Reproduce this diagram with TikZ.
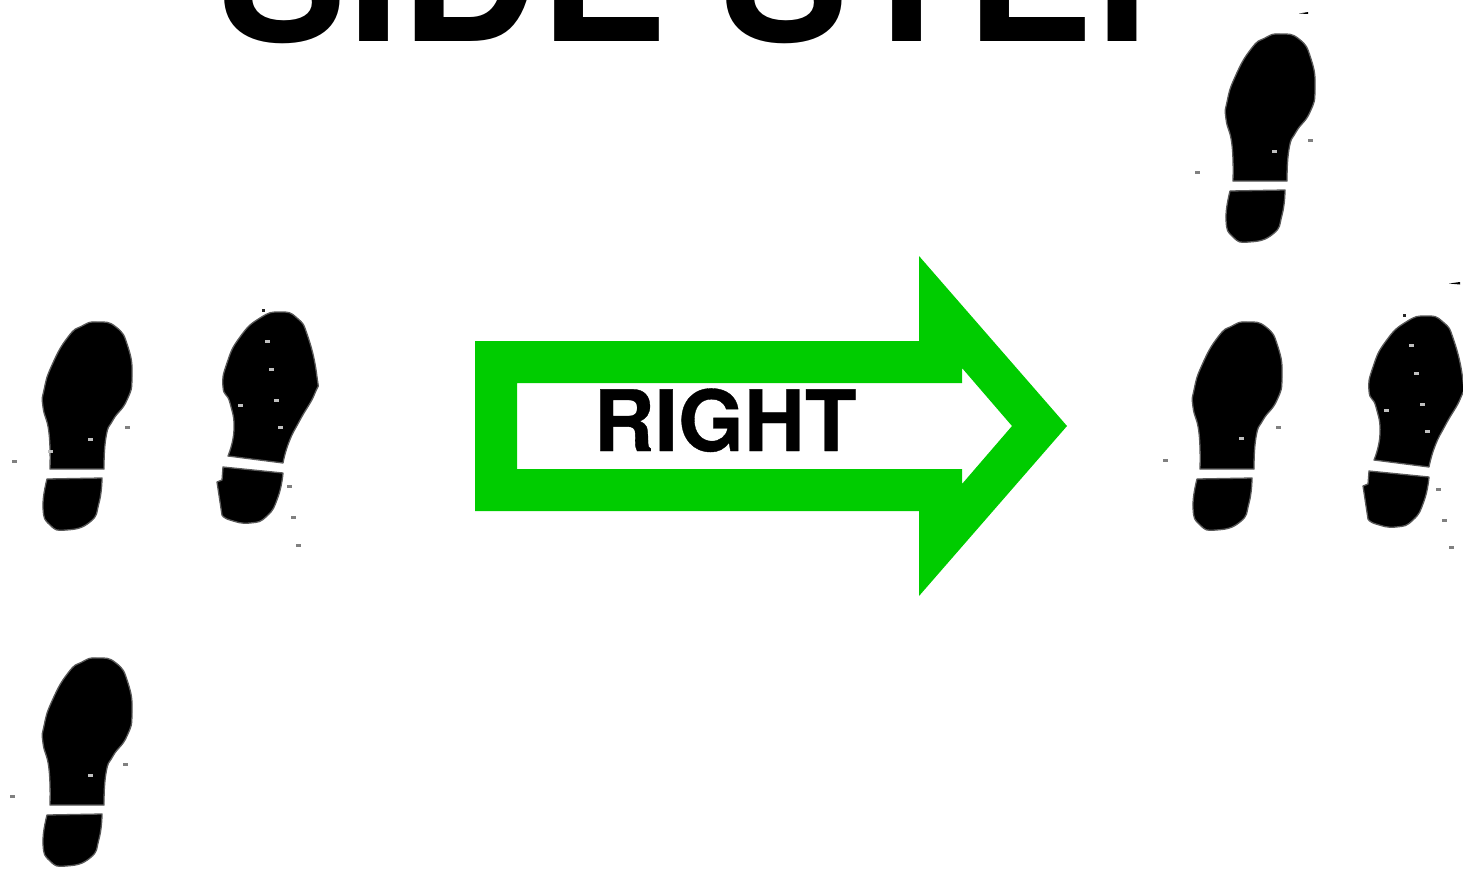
\documentclass[tikz,border=0pt]{standalone}
\usepackage{fontspec}
\setmainfont{TeX Gyre Heros}
\definecolor{arrowgreen}{RGB}{0,204,0}
\tikzset{
  shoemark/.style={fill=black, draw=black!65, line width=1.3pt, line join=round},
  titletext/.style={inner sep=0pt, anchor=base, font=\fontsize{192}{192}\selectfont\bfseries},
  signtext/.style={inner sep=0pt, anchor=base, font=\fontsize{84.5}{84.5}\selectfont\bfseries\addfontfeatures{FakeBold=0.4}},
  % Round-toed print, its heel square to the sole.
  printplain/.pic={
    \draw[shoemark] plot[smooth, tension=.9] coordinates {(104,179) (106,147) (113,130) (127,110) (132,87) (128,57) (116,37) (97,32) (82,36) (68,47) (52,75) (44,100) (43,117) (49,143) (50,179)} -- cycle;
    \draw[shoemark] plot[smooth, tension=.9] coordinates {(102,188) (99,213) (90,232) (66,240) (50,235) (43,218) (47,189)} -- cycle;
  },
  % Print with a slanted heel.
  printslant/.pic={
    \draw[shoemark] plot[smooth, tension=.9] coordinates {(283,173) (289,152) (300,130) (315,103) (317,87) (308,47) (297,28) (280,22) (260,28) (240,47) (227,73) (223,97) (230,113) (234,140) (228,166)} -- cycle;
    \draw[shoemark] plot[smooth, tension=.9] coordinates {(283,183) (278,207) (267,226) (250,233) (230,230) (222,225)} -- (217,192) -- (222,190) -- (223,177) -- cycle;
  },
}
\begin{document}
\begin{tikzpicture}[x=1pt, y=-1pt]
  \useasboundingbox (0,0) rectangle (1463,870);
  \clip (0,0) rectangle (1463,870);
  % Title, cut by the upper edge.
  \node[titletext] (title) at (720,41) {SIDE STEP};
  % Hollow arrow.
  \fill[arrowgreen, even odd rule] (475,341) -- (919,341) -- (919,256) -- (1067,426) -- (919,596) -- (919,511) -- (475,511) -- cycle
    (517,383) -- (962,383) -- (962,368) -- (1012,426) -- (962,484) -- (962,469) -- (517,469) -- cycle;
  \node[signtext] (sign) at (725,451) {RIGHT};
  % Footprints.
  \pic at (0,290) {printplain};
  \pic at (0,626) {printplain};
  \pic at (1150,290) {printplain};
  \pic at (1183,2) {printplain};
  \pic at (0,290) {printslant};
  \pic at (1146,294) {printslant};
  % Light flecks inside the prints.
  \foreach \px/\py in {90/439, 50/451, 267/341, 271/369, 276/400, 240/405, 280/427, 1241/438, 1411/345, 1416/373, 1422/404, 1386/410, 1427/431, 90/775, 1274/151}
    \fill[black!25] (\px-2.5,\py-1.5) rectangle (\px+2.5,\py+1.5);
  % Grey flecks outside them.
  \foreach \px/\py in {127/427, 14/461, 289/486, 293/517, 298/545, 1278/427, 1165/460, 1438/489, 1444/520, 1451/547, 125/764, 12/796, 1310/140, 1197/172}
    \fill[black!50] (\px-2.5,\py-1.5) rectangle (\px+2.5,\py+1.5);
  \foreach \px/\py in {263/310, 1404/315}
    \fill[black!85] (\px-1.5,\py-1.5) rectangle (\px+1.5,\py+1.5);
  % Two slivers at the upper right.
  \fill (1299,13.5) -- (1308,12) -- (1308,14) -- cycle;
  \fill (1449,283.5) -- (1460,282) -- (1460,284.5) -- cycle;
\end{tikzpicture}
\end{document}
